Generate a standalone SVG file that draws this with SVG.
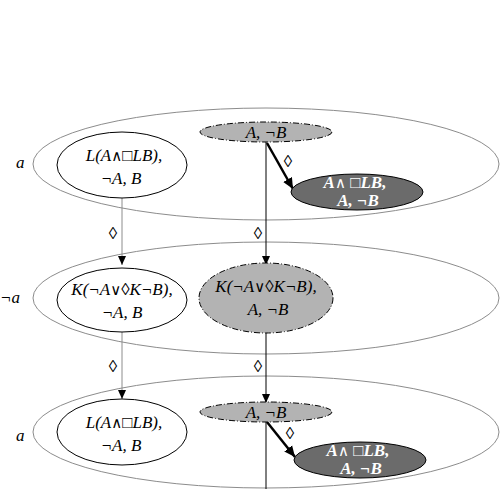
<svg xmlns="http://www.w3.org/2000/svg" width="502" height="489" viewBox="0 0 502 489">
<defs>
<style>
.world{fill:none;stroke:#8c8c8c;stroke-width:1}
.white{fill:#fff;stroke:#000;stroke-width:1}
.gray{fill:#b3b3b3;stroke:#000;stroke-width:1;stroke-dasharray:6 2 1 2}
.dark{fill:#6b6b6b;stroke:#000;stroke-width:1}
text{font-family:"Liberation Serif","Times New Roman","DejaVu Serif",serif;font-style:italic;font-size:17px;text-anchor:middle;fill:#000}
.wt{fill:#fff;font-weight:bold}
.sym{font-family:"DejaVu Sans",sans-serif;font-style:normal;font-weight:normal;font-size:15px}
.lbl{text-anchor:start}
.thin{stroke:#8c8c8c;stroke-width:1;fill:none}
.blk{stroke:#000;stroke-width:1;fill:none}
.thick{stroke:#000;stroke-width:2.5;fill:none}
</style>
<marker id="ah" markerWidth="10" markerHeight="10" refX="9" refY="5" orient="auto" markerUnits="userSpaceOnUse">
<path d="M0,1 L9,5 L0,9 Z" fill="#000"/>
</marker>
<marker id="ahb" markerWidth="12" markerHeight="12" refX="11" refY="6" orient="auto" markerUnits="userSpaceOnUse">
<path d="M0,1 L11,6 L0,11 Z" fill="#000"/>
</marker>
</defs>

<g id="worlds">
<ellipse id="w1" class="world" cx="266" cy="164" rx="233" ry="56"/>
<ellipse id="w2" class="world" cx="266" cy="298" rx="233" ry="56"/>
<ellipse id="w3" class="world" cx="266" cy="432" rx="233" ry="56"/>
<text class="lbl" x="16" y="168">a</text>
<text class="lbl" x="0" y="303">¬a</text>
<text class="lbl" x="16" y="441">a</text>
</g>

<g id="connectors">
<line class="thin" x1="122" y1="198" x2="122" y2="265" marker-end="url(#ah)"/>
<line class="blk" x1="266" y1="142" x2="266" y2="265" marker-end="url(#ah)"/>
<line class="thin" x1="122" y1="332" x2="122" y2="399" marker-end="url(#ah)"/>
<line class="blk" x1="266" y1="333" x2="266" y2="403" marker-end="url(#ah)"/>
<line class="blk" x1="266" y1="422" x2="266" y2="489"/>
<line class="thick" x1="267" y1="143" x2="293" y2="189" marker-end="url(#ahb)"/>
<line class="thick" x1="267" y1="422" x2="295" y2="457" marker-end="url(#ahb)"/>
<text x="113" y="239">◊</text>
<text x="258" y="239">◊</text>
<text x="113" y="372">◊</text>
<text x="258" y="372">◊</text>
<text x="288" y="167">◊</text>
<text x="290" y="439">◊</text>
</g>

<g id="n1">
<ellipse class="white" cx="122" cy="165" rx="65" ry="33"/>
<text x="124" y="161">L(A<tspan class="sym">∧</tspan>□LB),</text>
<text x="121" y="184">¬A, B</text>
</g>
<g id="n2">
<ellipse class="gray" cx="266" cy="132" rx="66" ry="10"/>
<text x="266" y="138">A, ¬B</text>
</g>
<g id="n3">
<ellipse class="dark" cx="357" cy="192" rx="66" ry="18"/>
<text class="wt" x="355" y="188">A<tspan class="sym">∧</tspan> □LB,</text>
<text class="wt" x="358" y="206">A, ¬B</text>
</g>
<g id="n4">
<ellipse class="white" cx="122" cy="300" rx="65" ry="32"/>
<text x="122" y="295">K(¬A<tspan class="sym">∨</tspan>◊K¬B),</text>
<text x="122" y="318">¬A, B</text>
</g>
<g id="n5">
<ellipse class="gray" cx="266" cy="298" rx="67" ry="35"/>
<text x="266" y="292">K(¬A<tspan class="sym">∨</tspan>◊K¬B),</text>
<text x="268" y="315">A, ¬B</text>
</g>
<g id="n6">
<ellipse class="white" cx="122" cy="432" rx="65" ry="33"/>
<text x="124" y="428">L(A<tspan class="sym">∧</tspan>□LB),</text>
<text x="121" y="451">¬A, B</text>
</g>
<g id="n7">
<ellipse class="gray" cx="266" cy="412" rx="66" ry="10"/>
<text x="266" y="418">A, ¬B</text>
</g>
<g id="n8">
<ellipse class="dark" cx="360" cy="460" rx="66" ry="18"/>
<text class="wt" x="358" y="456">A<tspan class="sym">∧</tspan> □LB,</text>
<text class="wt" x="361" y="474">A, ¬B</text>
</g>
</svg>
